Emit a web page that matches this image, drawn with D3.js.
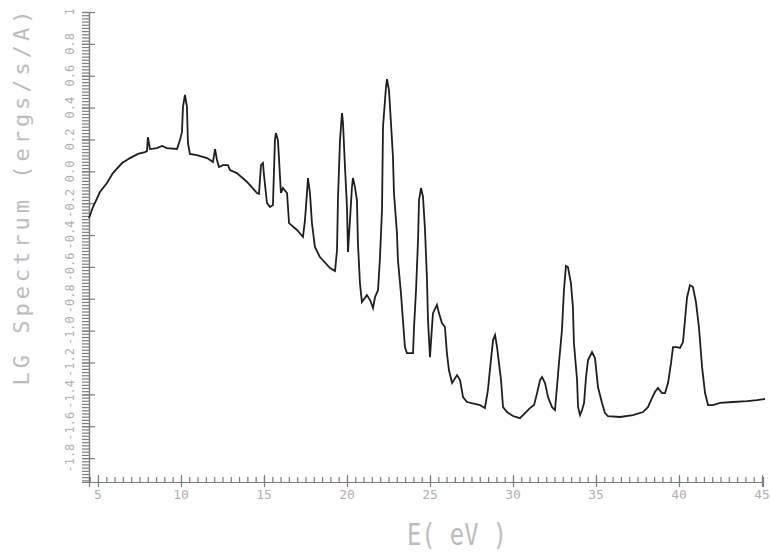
<!DOCTYPE html>
<html>
<head>
<meta charset="utf-8">
<script src="https://cdn.jsdelivr.net/npm/d3@7"></script>
<style>
  body { margin: 0; background: #fff; }
  svg { display: block; }
  .tick-label { font-family: "DejaVu Sans Mono", monospace; fill: #b0b0b0; }
  .titel { font-family: "DejaVu Sans Mono", monospace; fill: #bcbcbc; }
</style>
</head>
<body>
<svg></svg>
<script>
// energie (eV) en log spectrum
const energie = [4.46, 4.70, 5.12, 5.54, 5.90, 6.45, 6.93, 7.41, 7.83, 7.95, 8.01, 8.13, 8.55, 8.86, 9.16, 9.76,
    9.94, 10.06, 10.12, 10.24, 10.36, 10.42, 10.54, 10.96, 11.57, 11.93, 12.05, 12.17, 12.29, 12.53, 12.83, 12.95,
    13.37, 13.98, 14.58, 14.70, 14.82, 14.94, 15.00, 15.18, 15.36, 15.54, 15.66, 15.72, 15.84, 15.90, 16.02, 16.14,
    16.39, 16.51, 16.99, 17.35, 17.47, 17.59, 17.65, 17.77, 17.89, 18.07, 18.37, 18.98, 19.28, 19.40, 19.46, 19.58,
    19.70, 19.76, 19.88, 20.00, 20.06, 20.18, 20.30, 20.36, 20.48, 20.60, 20.66, 20.78, 20.90, 21.20, 21.39, 21.57,
    21.69, 21.87, 21.99, 22.11, 22.17, 22.35, 22.41, 22.53, 22.65, 22.77, 22.83, 23.01, 23.07, 23.25, 23.37, 23.49,
    23.61, 23.98, 24.04, 24.16, 24.28, 24.34, 24.46, 24.58, 24.70, 24.82, 24.88, 25.00, 25.12, 25.18, 25.42, 25.54,
    25.72, 25.90, 26.02, 26.14, 26.33, 26.63, 26.81, 26.99, 27.23, 28.01, 28.31, 28.49, 28.67, 28.80, 28.92, 29.04,
    29.28, 29.40, 29.64, 30.00, 30.42, 30.72, 31.02, 31.27, 31.45, 31.63, 31.75, 31.93, 32.11, 32.35, 32.53, 32.65,
    32.77, 32.95, 33.07, 33.19, 33.31, 33.49, 33.61, 33.67, 33.86, 33.92, 34.04, 34.16, 34.28, 34.40, 34.52, 34.76,
    34.94, 35.12, 35.36, 35.54, 35.72, 36.45, 37.23, 37.83, 38.13, 38.37, 38.55, 38.73, 38.98, 39.16, 39.34, 39.52,
    39.64, 39.88, 40.06, 40.24, 40.36, 40.48, 40.66, 40.84, 41.02, 41.20, 41.39, 41.57, 41.75, 42.05, 42.47, 43.25,
    44.10, 44.70, 45.18]

const lgSpectrum = [-0.293, -0.224, -0.130, -0.073, -0.011, 0.052, 0.083, 0.109, 0.121, 0.127, 0.215, 0.140, 0.146, 0.159, 0.146, 0.140,
    0.196, 0.247, 0.404, 0.479, 0.404, 0.178, 0.109, 0.102, 0.083, 0.058, 0.140, 0.071, 0.027, 0.039, 0.039, 0.008,
    -0.011, -0.067, -0.136, -0.142, 0.039, 0.052, -0.023, -0.199, -0.224, -0.212, 0.196, 0.240, 0.196, 0.090, -0.136, -0.105,
    -0.136, -0.325, -0.368, -0.412, -0.306, -0.136, -0.042, -0.136, -0.325, -0.475, -0.538, -0.607, -0.626, -0.494, -0.161, 0.196,
    0.366, 0.303, 0.027, -0.224, -0.507, -0.306, -0.099, -0.042, -0.099, -0.180, -0.450, -0.701, -0.820, -0.777, -0.808, -0.858,
    -0.789, -0.745, -0.538, -0.243, 0.278, 0.529, 0.579, 0.510, 0.303, 0.090, -0.136, -0.387, -0.557, -0.764, -0.933, -1.103,
    -1.141, -1.141, -0.977, -0.745, -0.431, -0.180, -0.105, -0.161, -0.368, -0.682, -0.933, -1.166, -0.977, -0.890, -0.839, -0.890,
    -0.952, -0.977, -1.141, -1.247, -1.329, -1.279, -1.310, -1.417, -1.448, -1.467, -1.486, -1.373, -1.185, -1.059, -1.028, -1.103,
    -1.310, -1.480, -1.511, -1.536, -1.549, -1.517, -1.486, -1.467, -1.392, -1.310, -1.291, -1.329, -1.417, -1.480, -1.498, -1.354,
    -1.203, -0.996, -0.745, -0.594, -0.601, -0.701, -0.852, -1.078, -1.310, -1.480, -1.530, -1.498, -1.454, -1.291, -1.185, -1.134,
    -1.172, -1.354, -1.454, -1.517, -1.536, -1.542, -1.530, -1.511, -1.480, -1.423, -1.385, -1.360, -1.392, -1.392, -1.329, -1.203,
    -1.103, -1.103, -1.109, -1.072, -0.933, -0.795, -0.714, -0.726, -0.820, -0.977, -1.229, -1.392, -1.467, -1.467, -1.454, -1.448,
    -1.442, -1.436, -1.429]

const xTicks = [5, 10, 15, 20, 25, 30, 35, 40, 45]
const yTicks = [1, 0.8, 0.6, 0.4, 0.2, 0, -0.2, -0.4, -0.6, -0.8, -1.0, -1.2, -1.4, -1.6, -1.8]

const width = 770
const height = 554
const links = 89
const rechts = 763
const boven = 12
const onder = 482

const svg = d3.select('svg')
    .attr("width", width)
    .attr("height", height)

const x = d3.scaleLinear()
    .domain([4.46, 45.06])
    .range([links, rechts])

const y = d3.scaleLinear()
    .domain([-1.95, 1])
    .range([onder, boven])

const asKleur = "#7c7c7c"

// y-as: kleine streepjes links, grote streepjes er doorheen
const yKlein = d3.range(-97, 51).map(i => i * 0.02).filter(d => d >= -1.95 && d <= 1.0001)
svg.append("g")
    .attr("transform", `translate(${links},0)`)
    .call(d3.axisLeft(y).tickValues(yKlein).tickSize(7).tickFormat(""))
svg.append("g")
    .attr("transform", `translate(${links},0)`)
    .call(d3.axisRight(y).tickValues(yTicks).tickSize(6).tickFormat(""))
svg.append("g")
    .attr("transform", `translate(${links - 7},0)`)
    .call(d3.axisRight(y).tickValues(yTicks).tickSize(7).tickFormat(""))
    .select(".domain").remove()

svg.selectAll(".y-label")
    .data(yTicks)
    .enter().append("text")
    .attr("class", "tick-label")
    .attr("transform", d => `translate(74,${y(d)}) rotate(-90)`)
    .attr("text-anchor", "middle")
    .attr("font-size", 12)
    .text(d => d === 1 ? "1" : d.toFixed(1))

// x-as: kleine streepjes omhoog, grote er doorheen
const xKlein = d3.range(9, 91).map(i => i * 0.5)
svg.append("g")
    .attr("transform", `translate(0,${onder})`)
    .call(d3.axisTop(x).tickValues(xKlein).tickSize(5).tickFormat(""))
svg.append("g")
    .attr("transform", `translate(0,${onder})`)
    .call(d3.axisBottom(x).tickValues(xTicks).tickSize(5).tickFormat(""))
svg.append("g")
    .attr("transform", `translate(0,${onder - 7})`)
    .call(d3.axisBottom(x).tickValues(xTicks).tickSize(7).tickFormat(""))
    .select(".domain").remove()

svg.selectAll(".x-label")
    .data(xTicks)
    .enter().append("text")
    .attr("class", "tick-label")
    .attr("x", d => x(d))
    .attr("y", 499)
    .attr("text-anchor", "middle")
    .attr("font-size", 13)
    .text(d => d)

svg.selectAll(".domain, .tick line")
    .attr("stroke", asKleur)
    .attr("stroke-width", 1.2)

// titels
svg.append("text")
    .attr("class", "titel")
    .attr("transform", "translate(29,198) rotate(-90)")
    .attr("text-anchor", "middle")
    .attr("font-size", 22)
    .attr("textLength", 375)
    .text("LG Spectrum (ergs/s/A)")

svg.append("text")
    .attr("class", "titel")
    .attr("x", 407)
    .attr("y", 545)
    .attr("font-size", 30)
    .attr("textLength", 100)
    .attr("lengthAdjust", "spacingAndGlyphs")
    .text("E( eV )")

// spectrum lijn
const lijn = d3.line()
    .x((d, i) => x(energie[i]))
    .y(d => y(d))

svg.append("path")
    .datum(lgSpectrum)
    .attr("fill", "none")
    .attr("stroke", "#1e1e1e")
    .attr("stroke-width", 1.8)
    .attr("d", lijn)
</script>
</body>
</html>
